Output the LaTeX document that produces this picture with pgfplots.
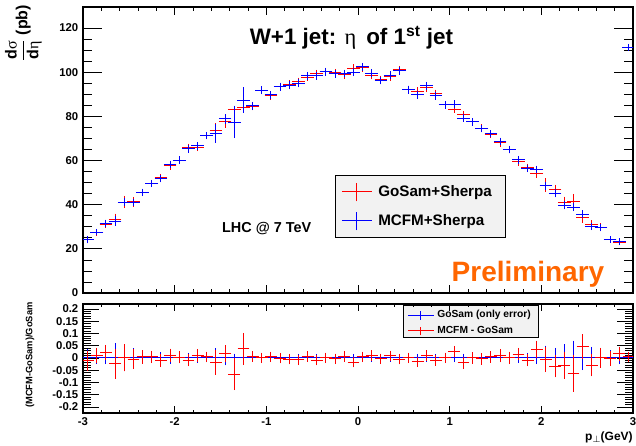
\documentclass[border=0pt]{standalone}
\usepackage{pgfplots}
\pgfplotsset{compat=1.18}
\usepackage{pgfplotstable}
\usepackage{fontspec}
\setmainfont{Liberation Sans}
\newfontfamily\grk{Liberation Serif}
\definecolor{prelim}{RGB}{255,102,0}
\definecolor{legfill}{RGB}{242,242,242}
\definecolor{rb}{RGB}{0,0,255}
\definecolor{rr}{RGB}{255,0,0}

\pgfplotstableread{
x ex R Rerr B Berr Q Qerr G Z
-2.95 0.05 24.3 0.7 24.0 0.8 -0.012 0.035 0.030 0
-2.85 0.05 27.4 0.6 27.6 0.6 0.008 0.025 0.020 0
-2.75 0.05 30.9 0.7 31.6 0.8 0.023 0.025 0.020 0
-2.65 0.05 33.4 1.8 32.6 1.3 -0.024 0.055 0.055 0
-2.55 0.05 41.2 2.0 41.2 1.0 0.000 0.050 0.050 0
-2.45 0.05 41.3 1.4 41.1 0.9 -0.005 0.035 0.033 0
-2.35 0.05 45.5 0.8 45.7 0.8 0.004 0.022 0.018 0
-2.25 0.05 49.4 0.7 49.6 0.8 0.004 0.020 0.015 0
-2.15 0.05 52.2 0.9 51.7 0.8 -0.010 0.022 0.018 0
-2.05 0.05 57.6 1.0 58.2 0.9 0.010 0.022 0.018 0
-1.95 0.05 60.0 0.9 60.2 0.9 0.003 0.020 0.015 0
-1.85 0.05 65.9 1.0 65.3 0.9 -0.009 0.020 0.015 0
-1.75 0.05 66.0 1.0 66.6 0.9 0.009 0.020 0.015 0
-1.65 0.05 71.1 0.8 71.4 0.8 0.004 0.016 0.012 0
-1.55 0.05 73.6 2.4 72.2 3.4 -0.019 0.045 0.033 0
-1.45 0.05 77.5 1.9 78.8 1.4 0.017 0.030 0.025 0
-1.35 0.05 82.9 1.0 77.4 6.5 -0.066 0.060 0.012 0
-1.25 0.05 84.2 1.0 87.3 5.0 0.037 0.060 0.012 0
-1.15 0.05 84.4 0.9 84.8 1.0 0.005 0.016 0.011 0
-1.05 0.05 91.8 1.0 91.8 1.0 0.000 0.016 0.011 0
-0.95 0.05 89.3 0.9 89.7 0.9 0.004 0.016 0.011 0
-0.85 0.05 93.5 1.0 93.4 1.0 -0.001 0.016 0.011 0
-0.75 0.05 94.6 1.0 94.1 1.0 -0.005 0.016 0.011 0
-0.65 0.05 95.7 1.0 94.9 1.0 -0.008 0.016 0.011 0
-0.55 0.05 97.8 1.0 98.3 1.0 0.005 0.016 0.011 0
-0.45 0.05 99.2 1.0 98.3 1.0 -0.009 0.016 0.011 0
-0.35 0.05 100.2 1.0 100.2 1.0 0.000 0.016 0.011 0
-0.25 0.05 99.7 1.0 99.3 1.0 -0.004 0.016 0.011 0
-0.15 0.05 98.9 1.0 99.4 1.0 0.005 0.016 0.011 0
-0.05 0.05 101.7 1.0 100.0 1.0 -0.017 0.016 0.011 0
0.05 0.05 102.0 1.0 102.4 1.0 0.004 0.016 0.011 0
0.15 0.05 98.5 1.0 99.5 1.0 0.010 0.016 0.011 0
0.25 0.05 96.6 1.0 96.2 1.0 -0.004 0.016 0.011 0
0.35 0.05 97.9 1.0 98.7 1.0 0.008 0.016 0.011 0
0.45 0.05 101.1 1.0 100.6 1.0 -0.005 0.016 0.011 0
0.55 0.05 92.1 1.0 92.1 1.0 0.000 0.016 0.011 0
0.65 0.05 91.3 1.0 89.8 1.0 -0.016 0.016 0.011 0
0.75 0.05 92.9 1.0 93.8 1.0 0.010 0.016 0.011 0
0.85 0.05 90.3 1.0 89.4 1.0 -0.010 0.016 0.011 0
0.95 0.05 85.2 0.9 85.2 0.9 0.000 0.016 0.011 0
1.05 0.05 83.3 0.9 85.5 1.0 0.026 0.018 0.012 0
1.15 0.05 80.8 0.9 79.2 0.9 -0.020 0.018 0.012 0
1.25 0.05 77.5 0.9 77.5 0.9 0.000 0.018 0.012 0
1.35 0.05 74.7 0.9 74.4 0.9 -0.004 0.018 0.012 0
1.45 0.05 71.8 0.9 72.1 0.9 0.004 0.018 0.012 0
1.55 0.05 68.0 0.9 68.7 0.9 0.010 0.020 0.013 0
1.65 0.05 64.9 0.9 64.9 0.9 0.000 0.020 0.013 0
1.75 0.05 59.4 0.9 60.3 0.9 0.015 0.020 0.014 0
1.85 0.05 56.9 0.9 56.4 0.9 -0.009 0.020 0.015 0
1.95 0.05 54.0 1.0 55.9 1.0 0.035 0.030 0.020 0
2.05 0.05 48.9 2.2 48.5 1.0 -0.008 0.045 0.045 0
2.15 0.05 46.7 1.6 45.1 1.0 -0.034 0.040 0.035 0
2.25 0.05 40.9 2.0 39.7 1.0 -0.030 0.050 0.050 0
2.35 0.05 41.4 2.7 38.8 1.0 -0.063 0.070 0.065 0
2.45 0.05 34.1 1.5 35.7 1.0 0.047 0.045 0.045 0
2.55 0.05 30.9 1.2 30.0 0.8 -0.030 0.040 0.040 0
2.65 0.05 29.7 1.0 29.7 0.8 0.000 0.035 0.035 0
2.75 0.05 24.3 0.7 24.2 0.7 -0.003 0.025 0.025 0
2.85 0.05 22.9 0.6 23.3 0.6 0.016 0.025 0.020 0
2.95 0.05 22.0 0.6 111.2 0.8 0.004 0.015 0.010 0
}\data

\pgfplotsset{
  base/.style={scale only axis, width=412.5pt, xmin=-3, xmax=3,
    anchor=south west, axis line style={line width=0.8pt},
    tick style={line width=0.5pt, black}, tick align=inside,
    tick label style={font=\fontsize{8.5}{10}\selectfont\bfseries},
    /pgf/number format/assume math mode=true},
  errstyle/.style={only marks, mark=*, mark size=0pt, line width=0.75pt},
}

\begin{document}
\begin{tikzpicture}
\useasboundingbox (0,0) rectangle (477pt,334.5pt);
% legend boxes (drawn beneath the axes)
\fill[black] (252pt,156pt) rectangle (379.5pt,202.5pt);
\filldraw[fill=legfill, draw=black, line width=0.6pt] (251.25pt,156.75pt) rectangle (378.75pt,203.25pt);
\fill[black] (303pt,81pt) rectangle (404.25pt,105pt);
\filldraw[fill=legfill, draw=black, line width=0.6pt] (302.25pt,81.75pt) rectangle (403.5pt,105.75pt);

% ---------- upper panel: y ticks ----------
\begin{axis}[base, at={(62.25pt,114.75pt)}, height=214.5pt, ymin=0, ymax=129.5,
  xtick=\empty, ytick={0,20,...,120}, minor y tick num=3,
  major tick length=14pt, minor tick length=7pt, ytick pos=both]
\end{axis}
% ---------- upper panel: data ----------
\begin{axis}[base, at={(62.25pt,114.75pt)}, height=214.5pt, ymin=0, ymax=129.5,
  ytick=\empty, xtick={-3,-2,...,3}, xticklabels={}, minor x tick num=4,
  major tick length=6pt, minor tick length=3pt, xtick pos=both,
  legend cell align=left,
  legend style={at={(0.4691,0.4049)}, anchor=north west, draw=none, fill=none,
    inner xsep=0pt, inner ysep=0pt, column sep=4.5pt, row sep=0pt,
    nodes={inner sep=0pt, minimum height=21.75pt},
    font=\fontsize{11.4}{13}\selectfont\bfseries}]
\addplot[rr, errstyle, skip coords between index={59}{60},
  legend image code/.code={\draw[rr, line width=0.75pt] (0pt,0pt) -- (22.5pt,0pt);
    \draw[rr, line width=0.75pt] (11.25pt,-7pt) -- (11.25pt,7pt);},
  error bars/.cd, x dir=both, x explicit, y dir=both, y explicit,
  error bar style={draw=rr, line width=0.75pt},
  error mark=-, error mark options={draw=rr, mark size=1.3pt, line width=0.75pt}]
  table[x=x, y=R, x error=ex, y error=Rerr]{\data};
\addlegendentry{GoSam+Sherpa}
\addplot[rb, errstyle,
  legend image code/.code={\draw[rb, line width=0.75pt] (0pt,0pt) -- (22.5pt,0pt);
    \draw[rb, line width=0.75pt] (11.25pt,-7pt) -- (11.25pt,7pt);},
  error bars/.cd, x dir=both, x explicit, y dir=both, y explicit,
  error bar style={draw=rb, line width=0.75pt},
  error mark=-, error mark options={draw=rb, mark size=1.3pt, line width=0.75pt}]
  table[x=x, y=B, x error=ex, y error=Berr]{\data};
\addlegendentry{MCFM+Sherpa}
\end{axis}

% ---------- lower panel: y ticks ----------
\begin{axis}[base, at={(62.25pt,24.75pt)}, height=81.75pt, ymin=-0.225, ymax=0.22,
  xtick=\empty, ytick={-0.2,-0.15,-0.1,-0.05,0,0.05,0.1,0.15,0.2},
  yticklabels={-0.2,-0.15,-0.1,-0.05,0,0.05,0.1,0.15,0.2},
  minor y tick num=4, major tick length=12pt, minor tick length=6pt, ytick pos=both]
\end{axis}
% ---------- lower panel: data ----------
\begin{axis}[base, at={(62.25pt,24.75pt)}, height=81.75pt, ymin=-0.225, ymax=0.22,
  ytick=\empty, xtick={-3,-2,...,3}, minor x tick num=4,
  major tick length=5pt, minor tick length=2.5pt, xtick pos=both,
  legend cell align=left,
  legend style={at={(0.5891,0.971)}, anchor=north west, draw=none, fill=none,
    inner xsep=0pt, inner ysep=0pt, column sep=2.25pt, row sep=0pt,
    nodes={inner sep=0pt, minimum height=11.75pt},
    font=\fontsize{7.7}{9}\selectfont\bfseries}]
\addplot[rb, errstyle,
  legend image code/.code={\draw[rb, line width=0.75pt] (0pt,0pt) -- (19.5pt,0pt);
    \draw[rb, line width=0.75pt] (9.75pt,-3.3pt) -- (9.75pt,3.3pt);},
  error bars/.cd, x dir=both, x explicit, y dir=both, y explicit,
  error bar style={draw=rb, line width=0.75pt},
  error mark=-, error mark options={draw=rb, mark size=1pt, line width=0.75pt}]
  table[x=x, y=Z, x error=ex, y error=G]{\data};
\addlegendentry{GoSam (only error)}
\addplot[rr, errstyle,
  legend image code/.code={\draw[rr, line width=0.75pt] (0pt,0pt) -- (19.5pt,0pt);
    \draw[rr, line width=0.75pt] (9.75pt,-3.3pt) -- (9.75pt,3.3pt);},
  error bars/.cd, x dir=both, x explicit, y dir=both, y explicit,
  error bar style={draw=rr, line width=0.75pt},
  error mark=-, error mark options={draw=rr, mark size=1pt, line width=0.75pt}]
  table[x=x, y=Q, x error=ex, y error=Qerr]{\data};
\addlegendentry{MCFM - GoSam}
\end{axis}

% ---------- texts ----------
\node[anchor=base, font=\fontsize{16.8}{18}\selectfont\bfseries] at (263.6pt,300.75pt)
  {W+1 jet: {\grk\mdseries η}\, of 1\textsuperscript{st} jet};
\node[anchor=base, font=\fontsize{10.8}{12}\selectfont\bfseries] at (200pt,159.75pt) {LHC @ 7 TeV};
\node[anchor=base, font=\fontsize{21}{24}\selectfont\bfseries, text=prelim] at (396pt,123pt) {Preliminary};
\node[rotate=90, anchor=east, font=\fontsize{12}{14}\selectfont\bfseries, inner sep=0pt] at (17.6pt,331pt)
  {$\displaystyle\frac{\hbox{\bfseries d{\grk\mdseries σ}}}{\hbox{\bfseries d{\grk\mdseries η}}}$\ (pb)};
\node[rotate=90, font=\fontsize{7}{8}\selectfont\bfseries, inner sep=0pt] at (22.5pt,68.25pt) {(MCFM-GoSam)/GoSam};
\node[anchor=base east, font=\fontsize{9}{10}\selectfont\bfseries, inner sep=0pt] at (474.75pt,4pt)
  {p\raisebox{-0.35ex}{\fontsize{7}{8}\selectfont$\perp$}(GeV)};
\end{tikzpicture}
\end{document}
